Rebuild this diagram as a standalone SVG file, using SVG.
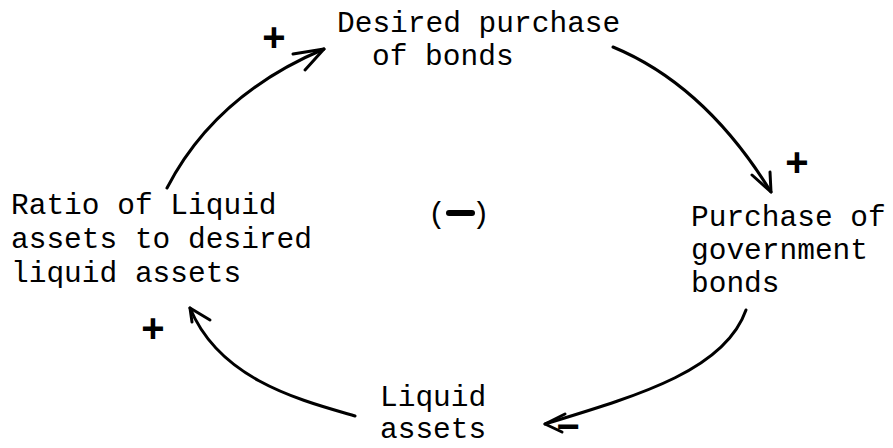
<svg xmlns="http://www.w3.org/2000/svg" width="893" height="448" viewBox="0 0 893 448">
<style>
.lbl{font-family:"Liberation Mono","DejaVu Sans Mono",monospace;font-size:29.5px;fill:#000}
.sgn{font-family:"Liberation Sans","DejaVu Sans",sans-serif;font-weight:bold;font-size:40px;fill:#000;text-anchor:middle}
.edge{fill:none;stroke:#000;stroke-width:3;stroke-linecap:round;stroke-linejoin:round}
</style>
<rect width="893" height="448" fill="#fff"/>
<g id="connectors">
<path class="edge" d="M167,188 Q215,95 324,49"/>
<polyline class="edge" points="293,54 324,49 305,70"/>
<path class="edge" d="M613,47 Q705,85 771,192"/>
<polyline class="edge" points="752,175 771,192 770,172"/>
<path class="edge" d="M746,310 C725,370 640,395 545,424"/>
<polyline class="edge" points="565,414 545,424 562,432"/>
<path class="edge" d="M355,416 C300,400 220,380 190,308"/>
<polyline class="edge" points="210,320 190,308 192,322"/>
</g>
<g id="signs">
<text class="sgn" x="274" y="51">+</text>
<text class="sgn" x="797" y="176" font-size="44">+</text>
<text class="sgn" x="153" y="342">+</text>
<text class="sgn" x="568" y="440" font-size="34">−</text>
</g>
<g id="node-desired">
<text class="lbl" x="337" y="32">Desired purchase</text>
<text class="lbl" x="372" y="65">of bonds</text>
</g>
<g id="node-purchase">
<text class="lbl" x="691" y="226">Purchase of</text>
<text class="lbl" x="691" y="259">government</text>
<text class="lbl" x="691" y="292">bonds</text>
</g>
<g id="node-liquid">
<text class="lbl" x="380" y="406">Liquid</text>
<text class="lbl" x="380" y="438">assets</text>
</g>
<g id="node-ratio">
<text class="lbl" x="11" y="214">Ratio of Liquid</text>
<text class="lbl" x="11" y="248">assets to desired</text>
<text class="lbl" x="11" y="282">liquid assets</text>
</g>
<g id="loop-sign">
<text class="lbl" x="428" y="223">(</text>
<line x1="449" y1="213" x2="472" y2="213" stroke="#000" stroke-width="6" stroke-linecap="round"/>
<text class="lbl" x="472" y="223">)</text>
</g>
</svg>
